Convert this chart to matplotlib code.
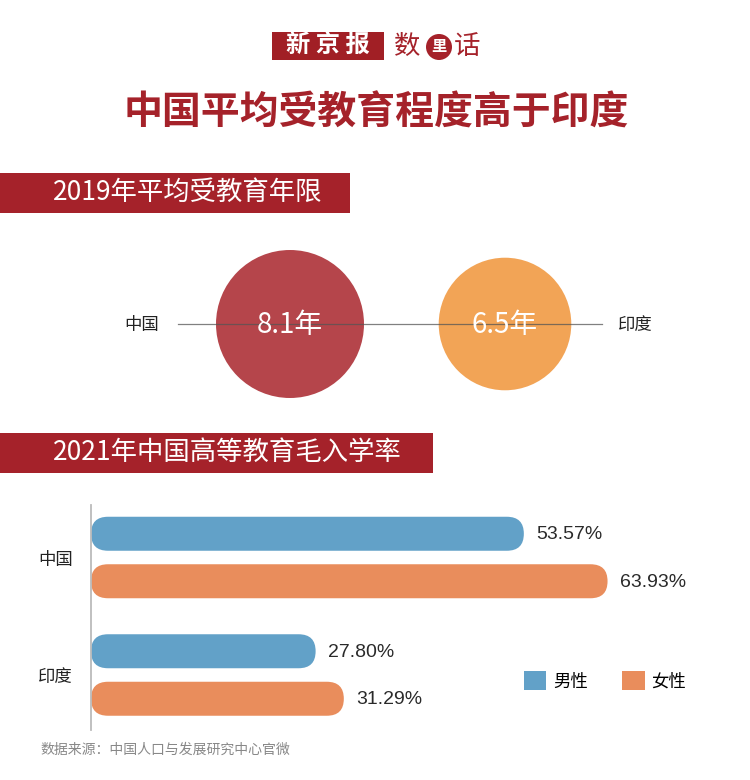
import numpy as np
import matplotlib
matplotlib.use("Agg")
import matplotlib.pyplot as plt
from matplotlib.patches import Rectangle, Circle, FancyBboxPatch, Patch

plt.rcParams['font.family'] = ['Noto Sans CJK SC', 'DejaVu Sans']

# 数据
circle_countries = ['中国', '印度']
avg_years = [8.1, 6.5]

bar_countries = ['中国', '印度']
male_rate = [53.57, 27.80]
female_rate = [63.93, 31.29]
series_names = ['男性', '女性']

RED = '#A5222A'
C_CHINA = '#B5454B'
C_INDIA = '#F2A456'
C_MALE = '#62A1C8'
C_FEMALE = '#E98D5C'

W, H = 750, 780
fig = plt.figure(figsize=(W / 100, H / 100), dpi=100)
fig.patch.set_facecolor('white')

# 背景坐标 (像素)
bg = fig.add_axes([0, 0, 1, 1])
bg.set_xlim(0, W)
bg.set_ylim(H, 0)
bg.axis('off')

# 报头
bg.add_patch(Rectangle((272, 32), 112, 28, color='#A11F25', lw=0))
bg.text(328, 46, '新 京 报', color='white', fontsize=17.5, fontweight='black',
        ha='center', va='center')
bg.text(407, 46, '数', color=RED, fontsize=19, ha='center', va='center')
bg.add_patch(Circle((439, 47), 13, color=RED, lw=0))
bg.text(439, 46, '里', color='white', fontsize=11, fontweight='bold', ha='center', va='center')
bg.text(467, 46, '话', color=RED, fontsize=19, ha='center', va='center')

# 标题
bg.text(376, 113, '中国平均受教育程度高于印度', color=RED, fontsize=28,
        fontweight='black', ha='center', va='center')

# 小标题
bg.add_patch(Rectangle((0, 173), 350, 40, color=RED, lw=0))
bg.text(53, 192, '2019年平均受教育年限', color='white', fontsize=19, va='center')
bg.add_patch(Rectangle((0, 433), 433, 40, color=RED, lw=0))
bg.text(53, 452, '2021年中国高等教育毛入学率', color='white', fontsize=19, va='center')

# 圆形 (面积按年限)
k = 26.0
cy = 324
centers = [290, 505]
colors = [C_CHINA, C_INDIA]
for cx, val, col in zip(centers, avg_years, colors):
    bg.add_patch(Circle((cx, cy), k * np.sqrt(val), color=col, lw=0, zorder=2))
    bg.text(cx, cy + 1, f'{val}年', color='white', fontsize=20,
            ha='center', va='center', zorder=4)
bg.plot([178, 602], [cy, cy], color='#555555', lw=0.9, alpha=0.75, zorder=3)
bg.text(159, cy + 1, circle_countries[0], fontsize=12.5, color='#222222', ha='right', va='center')
bg.text(618, cy + 1, circle_countries[1], fontsize=12.5, color='#222222', ha='left', va='center')

# 条形图
ax_l, ax_r, ax_t, ax_b = 91, 711, 505, 730
ax = fig.add_axes([ax_l / W, 1 - ax_b / H, (ax_r - ax_l) / W, (ax_b - ax_t) / H])
ax.set_facecolor('none')
px_per_pct = 8.08
xmax = (ax_r - ax_l) / px_per_pct
ax.set_xlim(0, xmax)
ax.set_ylim(ax_b - ax_t, 0)
aspect = px_per_pct  # y 单位为像素

group_y = [52.5 + i * 117.5 for i in range(len(bar_countries))]
bar_h = 34
off = 23.75
for gy, m, f in zip(group_y, male_rate, female_rate):
    for y, v, col in [(gy - off, m, C_MALE), (gy + off, f, C_FEMALE)]:
        r = bar_h / 2 / aspect
        ax.add_patch(FancyBboxPatch((0, y - bar_h / 2), v, bar_h,
                                    boxstyle=f'round,pad=0,rounding_size={r}',
                                    mutation_aspect=aspect, color=col, lw=0))
        ax.text(v + 1.5, y + 1, f'{v:.2f}%', fontsize=14, color='#2A2A2A',
                family=['Liberation Sans', 'DejaVu Sans'],
                ha='left', va='center')

for s in ['top', 'right', 'bottom']:
    ax.spines[s].set_visible(False)
ax.spines['left'].set_color('#BBBBBB')
ax.spines['left'].set_linewidth(1.3)
ax.set_xticks([])
ax.set_yticks(group_y)
ax.set_yticklabels(bar_countries, fontsize=12.5, color='#222222')
ax.tick_params(axis='y', length=0, pad=13)

handles = [Patch(color=C_MALE, lw=0), Patch(color=C_FEMALE, lw=0)]
fig.legend(handles, series_names, loc='center left',
           bbox_to_anchor=(524 / W, 1 - 681 / H), bbox_transform=fig.transFigure,
           ncol=2, frameon=False, fontsize=12.5, handlelength=1.27, handleheight=1.27,
           handletextpad=0.4, columnspacing=2.0, borderpad=0, borderaxespad=0)

# 来源
bg.text(40, 750, '数据来源：中国人口与发展研究中心官微', fontsize=10, color='#888888',
        ha='left', va='center')

fig.savefig('out.png', dpi=100, facecolor='white')
